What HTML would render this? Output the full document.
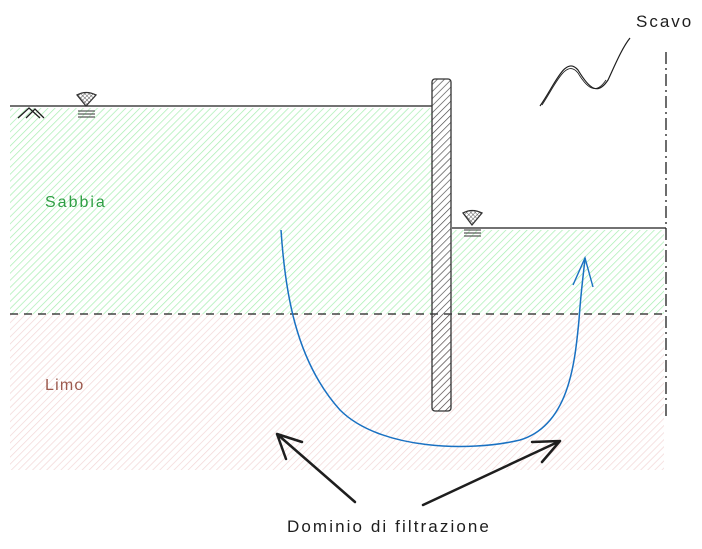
<!DOCTYPE html>
<html><head><style>body{margin:0;background:#fff}svg{display:block}</style></head><body>
<svg width="702" height="549" viewBox="0 0 702 549" xmlns="http://www.w3.org/2000/svg">
<defs>
<pattern id="g" width="5" height="5" patternUnits="userSpaceOnUse" patternTransform="rotate(45)"><line x1="0" y1="0" x2="0" y2="5" stroke="#a6eeb0" stroke-width="1.4"/></pattern>
<pattern id="p" width="5" height="5" patternUnits="userSpaceOnUse" patternTransform="rotate(45)"><line x1="0" y1="0" x2="0" y2="5" stroke="#f2d6d6" stroke-width="1.4"/></pattern>
<pattern id="w" width="5" height="5" patternUnits="userSpaceOnUse" patternTransform="rotate(45)"><line x1="0" y1="0" x2="0" y2="5" stroke="#444" stroke-width="1.3"/></pattern>
<pattern id="x" width="3" height="3" patternUnits="userSpaceOnUse" patternTransform="rotate(45)"><path d="M0 0V3M0 0H3" stroke="#333" stroke-width="0.8"/></pattern>
</defs>
<rect x="10" y="108" width="422" height="206" fill="url(#g)"/>
<rect x="452" y="230" width="212" height="84" fill="url(#g)"/>
<rect x="10" y="314" width="654" height="156" fill="url(#p)"/>
<line x1="10" y1="106" x2="432" y2="106" stroke="#1e1e1e" stroke-width="1.2"/>
<line x1="452" y1="228" x2="666" y2="228" stroke="#1e1e1e" stroke-width="1.2"/>
<line x1="10" y1="314" x2="666" y2="314" stroke="#1e1e1e" stroke-width="1.3" stroke-dasharray="8 6"/>
<line x1="666" y1="52" x2="666" y2="420" stroke="#1e1e1e" stroke-width="1.3" stroke-dasharray="12 4 2 4"/>
<rect x="432" y="79" width="19" height="332" rx="3" fill="url(#w)" stroke="#333" stroke-width="1.3"/>
<path d="M18 118 L29 108 L40 118 M26 118 L35 109 L44 118" fill="none" stroke="#1e1e1e" stroke-width="1.3"/>
<path d="M77 95 Q86 90 96 95 L86 106 Z" fill="url(#x)" stroke="#333" stroke-width="1.3"/>
<path d="M78 111H95M78 114H95M78 117H95" stroke="#333" stroke-width="1"/>
<path d="M463 213 Q472 208 482 213 L472 225 Z" fill="url(#x)" stroke="#333" stroke-width="1.3"/>
<path d="M464 230H481M464 233H481M464 236H481" stroke="#333" stroke-width="1"/>
<path d="M540 106 C555 85 565 55 578 70 C590 90 598 95 608 80 C615 65 622 48 630 38" fill="none" stroke="#1e1e1e" stroke-width="1.2"/>
<path d="M542 105 C556 84 566 58 578 73 C590 93 598 92 606 80" fill="none" stroke="#1e1e1e" stroke-width="0.8"/>
<path d="M281 230 C285 290 295 360 340 410 C380 450 470 452 520 440 C570 425 575 360 579 320 C581 290 584 270 585 258" fill="none" stroke="#1971c2" stroke-width="1.5"/>
<path d="M573 285 L585 258 L593 287" fill="none" stroke="#1971c2" stroke-width="1.4"/>
<path d="M355 502 L277 434 M277 434 L302 442 M277 434 L286 459" fill="none" stroke="#1e1e1e" stroke-width="2.5" stroke-linecap="round"/>
<path d="M423 505 L560 441 M560 441 L532 442 M560 441 L542 462" fill="none" stroke="#1e1e1e" stroke-width="2.5" stroke-linecap="round"/>
<text x="45" y="207" font-family="Liberation Sans, sans-serif" font-size="16" letter-spacing="2" fill="#2f9e44">Sabbia</text>
<text x="45" y="390" font-family="Liberation Sans, sans-serif" font-size="16" letter-spacing="1.2" fill="#9c5a4e">Limo</text>
<text x="636" y="27" font-family="Liberation Sans, sans-serif" font-size="17" letter-spacing="2" fill="#1e1e1e">Scavo</text>
<text x="287" y="532" font-family="Liberation Sans, sans-serif" font-size="17" letter-spacing="2.1" fill="#1e1e1e">Dominio di filtrazione</text>
</svg>
</body></html>
